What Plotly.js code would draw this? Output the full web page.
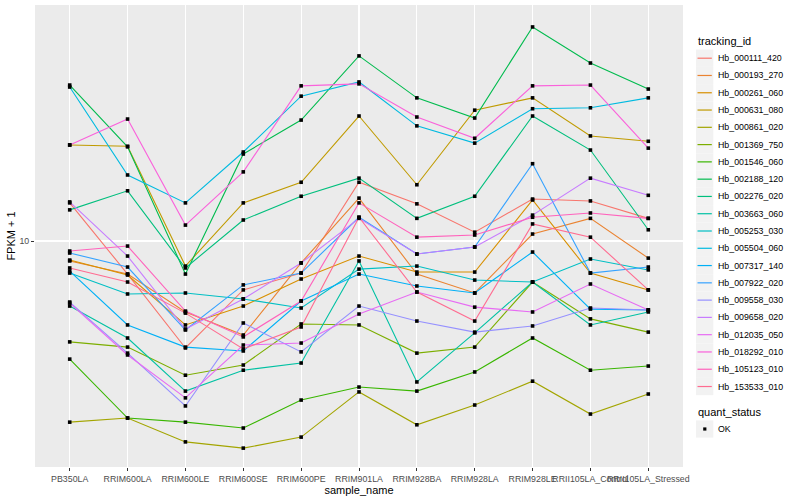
<!DOCTYPE html>
<html>
<head>
<meta charset="utf-8">
<script src="https://cdn.plot.ly/plotly-3.0.1.min.js"></script>
<style>html,body{margin:0;padding:0;background:#fff;}#chart{width:800px;height:500px;}</style>
</head>
<body>
<div id="chart"></div>
<script>
// ---- data ----
const sampleNames = ["PB350LA","RRIM600LA","RRIM600LE","RRIM600SE","RRIM600PE","RRIM901LA","RRIM928BA","RRIM928LA","RRIM928LE","RRII105LA_Control","RRII105LA_Stressed"];
const trackingIds = ["Hb_000111_420","Hb_000193_270","Hb_000261_060","Hb_000631_080","Hb_000861_020","Hb_001369_750","Hb_001546_060","Hb_002188_120","Hb_002276_020","Hb_003663_060","Hb_005253_030","Hb_005504_060","Hb_007317_140","Hb_007922_020","Hb_009558_030","Hb_009658_020","Hb_012035_050","Hb_018292_010","Hb_105123_010","Hb_153533_010"];
const quantStatus = ["OK"];
const yTickVals = [10];
const yTickText = ["10"];

const Hb_000111_420 = [13.4, 7.76, 4.40, 6.87, 7.82, 15.7, 13.3, 10.7, 13.8, 13.6, 11.9];
const Hb_000193_270 = [8.58, 7.76, 5.80, 4.86, 8.45, 13.9, 7.76, 6.71, 10.55, 11.9, 8.77];
const Hb_000261_060 = [8.64, 7.70, 5.25, 6.07, 7.47, 8.91, 7.88, 7.88, 13.7, 7.82, 6.87];
const Hb_000631_080 = [20.9, 20.7, 8.25, 13.4, 15.7, 26.1, 15.4, 27.3, 30.0, 22.4, 21.5];
const Hb_000861_020 = [2.49, 2.57, 2.14, 2.04, 2.22, 3.14, 2.44, 2.84, 3.41, 2.65, 3.09];
const Hb_001369_750 = [4.61, 4.43, 3.57, 3.86, 5.29, 5.25, 4.23, 4.43, 7.30, 5.50, 4.97];
const Hb_001546_060 = [4.04, 2.57, 2.49, 2.38, 2.95, 3.26, 3.16, 3.66, 4.75, 3.71, 3.83];
const Hb_002188_120 = [33.1, 20.6, 7.76, 19.5, 25.3, 41.4, 30.0, 25.7, 51.7, 39.2, 32.1];
const Hb_002276_020 = [12.7, 14.7, 8.13, 11.75, 14.1, 16.2, 11.9, 14.1, 26.1, 20.1, 10.9];
const Hb_003663_060 = [6.07, 4.75, 3.16, 3.71, 3.92, 8.58, 3.39, 4.94, 7.30, 5.25, 5.80];
const Hb_005253_030 = [7.82, 6.66, 6.71, 6.41, 5.98, 8.06, 8.25, 7.41, 7.30, 8.71, 8.01];
const Hb_005504_060 = [32.6, 16.6, 13.4, 19.8, 30.4, 33.9, 24.2, 21.2, 27.6, 27.8, 30.0];
const Hb_007317_140 = [7.94, 5.25, 4.43, 4.30, 6.31, 7.76, 7.08, 6.71, 9.19, 5.93, 5.89];
const Hb_007922_020 = [9.12, 8.19, 5.05, 7.14, 7.82, 12.0, 9.05, 9.55, 18.1, 7.82, 8.19];
const Hb_009558_030 = [6.26, 4.23, 2.82, 5.33, 4.27, 6.07, 5.41, 4.97, 5.21, 5.98, 5.89];
const Hb_009658_020 = [13.5, 8.91, 5.09, 6.41, 8.45, 11.9, 9.05, 9.55, 12.2, 16.2, 14.2];
const Hb_012035_050 = [6.21, 4.17, 3.00, 4.50, 4.57, 5.71, 6.76, 6.02, 5.80, 7.19, 5.89];
const Hb_018292_010 = [20.9, 25.5, 11.3, 17.0, 32.9, 33.4, 25.9, 22.0, 32.9, 33.1, 20.4];
const Hb_105123_010 = [9.26, 9.62, 5.84, 4.79, 6.31, 13.4, 10.3, 10.47, 12.0, 12.4, 11.9];
const Hb_153533_010 = [8.13, 7.30, 5.75, 4.37, 5.17, 12.0, 6.76, 5.41, 11.4, 10.3, 6.87];

const seriesValues = [Hb_000111_420, Hb_000193_270, Hb_000261_060, Hb_000631_080, Hb_000861_020,
  Hb_001369_750, Hb_001546_060, Hb_002188_120, Hb_002276_020, Hb_003663_060, Hb_005253_030,
  Hb_005504_060, Hb_007317_140, Hb_007922_020, Hb_009558_030, Hb_009658_020, Hb_012035_050,
  Hb_018292_010, Hb_105123_010, Hb_153533_010];

// ---- styles ----
const palette = ["#F8766D","#EA8331","#D89000","#C09B00","#A3A500","#7CAE00","#39B600","#00BB4E","#00BF7D","#00C1A3","#00BFC4","#00BAE0","#00B0F6","#35A2FF","#9590FF","#C77CFF","#E76BF3","#FA62DB","#FF62BC","#FF6C91"];
const FONT = "Liberation Sans, Arial, sans-serif";

const traces = seriesValues.map((vals, i) => ({
  type: "scatter", mode: "lines", name: trackingIds[i],
  x: sampleNames, y: vals,
  line: {color: palette[i], width: 1.1},
  showlegend: false, hoverinfo: "x+y+name"
}));
const mx = [], my = [];
seriesValues.forEach(vals => vals.forEach((v, j) => { mx.push(sampleNames[j]); my.push(v); }));
traces.push({
  type: "scatter", mode: "markers", name: quantStatus[0], x: mx, y: my,
  marker: {symbol: "square", size: 3.6, color: "black"}, showlegend: false
});

// ---- manual legend (paper coords) ----
const L = 35, T = 5, W = 648, H = 462;
const px2x = p => (p - L) / W;
const px2y = p => (T + H - p) / H;
const shapes = [], annotations = [];
annotations.push({xref: "paper", yref: "paper", x: px2x(695.5), y: px2y(41), text: "tracking_id",
  showarrow: false, xanchor: "left", yanchor: "middle", font: {family: FONT, size: 11, color: "black"}});
trackingIds.forEach((id, i) => {
  const cy = 58.2 + 17.28 * i;
  shapes.push({type: "rect", xref: "paper", yref: "paper", x0: px2x(696), x1: px2x(713.3),
    y0: px2y(cy - 8.64), y1: px2y(cy + 8.64), fillcolor: "#F2F2F2", line: {width: 0}});
  shapes.push({type: "line", xref: "paper", yref: "paper", x0: px2x(697.5), x1: px2x(711.8),
    y0: px2y(cy), y1: px2y(cy), line: {color: palette[i], width: 1.2}});
  annotations.push({xref: "paper", yref: "paper", x: px2x(715.5), y: px2y(cy), text: id,
    showarrow: false, xanchor: "left", yanchor: "middle", font: {family: FONT, size: 8.8, color: "black"}});
});
annotations.push({xref: "paper", yref: "paper", x: px2x(695.5), y: px2y(412), text: "quant_status",
  showarrow: false, xanchor: "left", yanchor: "middle", font: {family: FONT, size: 11, color: "black"}});
quantStatus.forEach((q, i) => {
  const cy = 429 + 17.28 * i;
  shapes.push({type: "rect", xref: "paper", yref: "paper", x0: px2x(696), x1: px2x(713.3),
    y0: px2y(cy - 8.64), y1: px2y(cy + 8.64), fillcolor: "#F2F2F2", line: {width: 0}});
  shapes.push({type: "rect", xref: "paper", yref: "paper", x0: px2x(703.2), x1: px2x(706.4),
    y0: px2y(cy - 1.6), y1: px2y(cy + 1.6), fillcolor: "black", line: {width: 0}});
  annotations.push({xref: "paper", yref: "paper", x: px2x(715.5), y: px2y(cy), text: q,
    showarrow: false, xanchor: "left", yanchor: "middle", font: {family: FONT, size: 8.8, color: "black"}});
});

const layout = {
  width: 800, height: 500,
  margin: {l: L, r: 800 - L - W, t: T, b: 500 - T - H, pad: 0},
  paper_bgcolor: "white", plot_bgcolor: "#EBEBEB",
  font: {family: FONT, color: "black"},
  showlegend: false,
  xaxis: {
    type: "category", range: [-0.6, 10.6], automargin: false,
    showgrid: true, gridcolor: "white", gridwidth: 1.1, zeroline: false, showline: false,
    ticks: "outside", ticklen: 3, tickwidth: 1, tickcolor: "#333333", tickangle: 0,
    tickfont: {family: FONT, size: 8.8, color: "#4D4D4D"},
    title: {text: "sample_name", font: {family: FONT, size: 11, color: "black"}, standoff: 2}
  },
  yaxis: {
    type: "log", range: [0.2467, 1.7867], automargin: false,
    tickvals: yTickVals, ticktext: yTickText,
    showgrid: true, gridcolor: "white", gridwidth: 1.1, zeroline: false, showline: false,
    ticks: "outside", ticklen: 3, tickwidth: 1, tickcolor: "#333333",
    tickfont: {family: FONT, size: 8.8, color: "#4D4D4D"},
    title: {text: "FPKM + 1", font: {family: FONT, size: 11, color: "black"}, standoff: 1}
  },
  shapes: shapes, annotations: annotations
};
Plotly.newPlot("chart", traces, layout, {displayModeBar: false, staticPlot: true});
</script>
</body>
</html>
